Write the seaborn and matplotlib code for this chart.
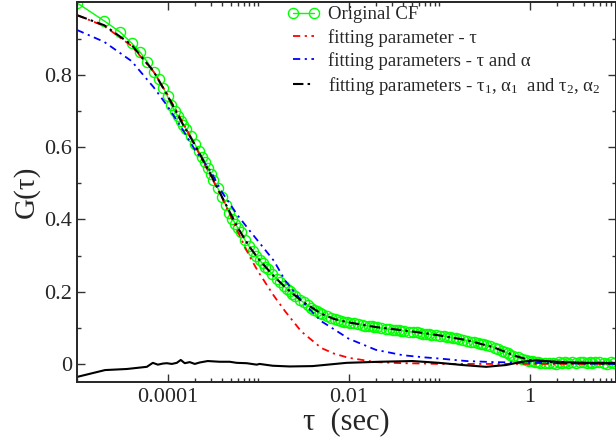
import numpy as np
import pandas as pd
import matplotlib
matplotlib.use("Agg")
import matplotlib.pyplot as plt
import seaborn as sns
from matplotlib.ticker import FixedLocator, NullFormatter

sns.set_style("ticks")
plt.rcParams['font.family'] = ['Liberation Serif', 'DejaVu Serif']
plt.rcParams['mathtext.fontset'] = 'custom'
plt.rcParams['mathtext.rm'] = 'Liberation Serif'
plt.rcParams['mathtext.it'] = 'Liberation Serif:italic'

# ------------------------------------------
# data (lag time in units of 10 us for the measured CF)
# ------------------------------------------
lag_units = [
    1, 2, 3, 4, 5, 6, 7, 8, 9, 10, 11, 12, 13, 14, 15, 16,
    18, 20, 22, 24, 26, 28, 30, 32,
    36, 40, 44, 48, 52, 56, 60, 64,
    72, 80, 88, 96, 104, 112, 120, 128,
    144, 160, 176, 192, 208, 224, 240, 256,
    288, 320, 352, 384, 416, 448, 480, 512,
    576, 640, 704, 768, 832, 896, 960, 1024,
    1152, 1280, 1408, 1536, 1664, 1792, 1920, 2048,
    2304, 2560, 2816, 3072, 3328, 3584, 3840, 4096,
    4608, 5120, 5632, 6144, 6656, 7168, 7680, 8192,
    9216, 10240, 11264, 12288, 13312, 14336, 15360, 16384,
    18432, 20480, 22528, 24576, 26624, 28672, 30720, 32768,
    36864, 40960, 45056, 49152, 53248, 57344, 61440, 65536,
    73728, 81920, 90112, 98304, 106496, 114688, 122880, 131072,
    147456, 163840, 180224, 196608, 212992, 229376, 245760, 262144,
    294912, 327680, 360448, 393216, 425984, 458752, 491520, 524288,
    589824, 655360, 720896, 786432, 851968,
]
cf_values = [
    0.999, 0.949, 0.918, 0.888, 0.862, 0.835, 0.808, 0.787,
    0.764, 0.740, 0.716, 0.700, 0.686, 0.673, 0.660, 0.651,
    0.631, 0.609, 0.589, 0.573, 0.560, 0.542, 0.525, 0.510,
    0.486, 0.462, 0.440, 0.418, 0.402, 0.388, 0.376, 0.365,
    0.342, 0.325, 0.312, 0.298, 0.287, 0.278, 0.269, 0.262,
    0.248, 0.236, 0.226, 0.216, 0.208, 0.201, 0.194, 0.189,
    0.178, 0.170, 0.162, 0.156, 0.150, 0.146, 0.141, 0.137,
    0.132, 0.128, 0.124, 0.121, 0.119, 0.117, 0.116, 0.114,
    0.112, 0.110, 0.108, 0.106, 0.105, 0.104, 0.102, 0.101,
    0.099, 0.097, 0.096, 0.095, 0.094, 0.093, 0.092, 0.091,
    0.089, 0.088, 0.087, 0.085, 0.084, 0.083, 0.082, 0.081,
    0.080, 0.078, 0.077, 0.075, 0.074, 0.072, 0.071, 0.069,
    0.067, 0.064, 0.062, 0.060, 0.058, 0.056, 0.054, 0.052,
    0.049, 0.045, 0.041, 0.037, 0.033, 0.030, 0.026, 0.023,
    0.018, 0.014, 0.011, 0.008, 0.007, 0.005, 0.004, 0.003,
    0.002, 0.002, 0.003, 0.001, 0.004, 0.002, 0.004, 0.003,
    0.005, 0.002, 0.004, 0.006, 0.003, 0.005, 0.002, 0.004,
    0.006, 0.003, 0.001, 0.004, 0.003,
]

# fitted curves (tau in seconds)
fit_tau = [1e-5, 2e-5, 4e-5, 7e-5, 1e-4, 1.5e-4, 2e-4, 3e-4, 4e-4, 6e-4,
           8e-4, 1e-3, 1.5e-3, 2e-3, 3e-3, 5e-3, 7e-3, 1e-2, 2e-2, 4e-2,
           7e-2, 0.1, 0.2, 0.4, 0.7, 1.0, 2.0, 4.0, 9.0]
fit_one = [0.965, 0.935, 0.880, 0.809, 0.745, 0.665, 0.605, 0.520, 0.460, 0.365,
           0.299, 0.256, 0.188, 0.145, 0.090, 0.044, 0.028, 0.017, 0.005, 0.002,
           0.001, 0.0, 0.0, 0.0, 0.0, 0.0, 0.0, 0.0, 0.0]
fit_alpha = [0.924, 0.891, 0.838, 0.766, 0.713, 0.645, 0.593, 0.533, 0.475, 0.410,
             0.370, 0.340, 0.285, 0.230, 0.175, 0.118, 0.095, 0.070, 0.039, 0.024,
             0.018, 0.015, 0.008, 0.005, 0.004, 0.003, 0.002, 0.001, 0.0]
fit_two = [0.965, 0.937, 0.883, 0.810, 0.742, 0.660, 0.607, 0.524, 0.462, 0.376,
           0.325, 0.292, 0.242, 0.212, 0.175, 0.139, 0.124, 0.115, 0.102, 0.093,
           0.085, 0.079, 0.066, 0.046, 0.022, 0.011, 0.004, 0.002, 0.001]

# residual of the two-component fit
res_tau = [1e-5, 2.04e-5, 3.56e-5, 5.91e-5, 6.88e-5, 7.82e-5, 8.88e-5, 9.82e-5,
           1.115e-4, 1.266e-4, 1.40e-4, 1.55e-4, 1.76e-4, 2.0e-4, 2.27e-4,
           2.78e-4, 3.77e-4, 4.86e-4, 5.81e-4, 7.49e-4, 9.65e-4, 1.04e-3,
           1.45e-3, 2.23e-3, 4.0e-3, 9.5e-3, 2.19e-2, 5.07e-2, 0.1, 0.18,
           0.331, 0.551, 0.826, 1.18, 2.28, 4.53, 9.0]
res_values = [-0.036, -0.017, -0.014, -0.008, 0.003, -0.002, 0.001, 0.002,
              0.000, 0.003, 0.011, 0.002, 0.005, 0.000, 0.004,
              0.008, 0.006, 0.006, 0.003, 0.002, -0.002, 0.000,
              -0.005, -0.007, -0.006, 0.003, 0.006, 0.008, 0.003, -0.003,
              -0.008, -0.003, 0.006, 0.010, 0.005, 0.003, 0.003]

cf = pd.DataFrame({"tau": np.array(lag_units) * 1e-5, "G": cf_values})
fits = pd.DataFrame({"tau": fit_tau, "one": fit_one,
                     "alpha": fit_alpha, "two": fit_two})
res = pd.DataFrame({"tau": res_tau, "G": res_values})

# ------------------------------------------
# plot
# ------------------------------------------
fig = plt.figure(figsize=(6.16, 4.4), dpi=100)
ax = fig.add_axes([77 / 616, 58 / 440, 539 / 616, 379.5 / 440])

sns.lineplot(data=cf, x="tau", y="G", ax=ax, sort=False, estimator=None,
             color="#00ff00", linewidth=1.0, marker="o", markersize=7.3,
             markerfacecolor="none", markeredgecolor="#00ff00",
             markeredgewidth=1.0, label="Original CF")
sns.lineplot(data=fits, x="tau", y="one", ax=ax, sort=False, estimator=None,
             color="#ff0000", linewidth=1.3,
             label="fitting parameter - τ")
sns.lineplot(data=fits, x="tau", y="alpha", ax=ax, sort=False, estimator=None,
             color="#0000ff", linewidth=1.3,
             label="fitting parameters - τ and α")
sns.lineplot(data=fits, x="tau", y="two", ax=ax, sort=False, estimator=None,
             color="black", linewidth=1.5,
             label="fitting parameters - τ$_1$, α$_1$  and τ$_2$, α$_2$")
sns.lineplot(data=res, x="tau", y="G", ax=ax, sort=False, estimator=None,
             color="black", linewidth=1.5)

ax.lines[1].set_dashes([4, 2.5, 1.2, 2.5])
ax.lines[2].set_dashes([4, 2.5, 1.2, 2.5])
ax.lines[3].set_dashes([5, 2, 1.2, 2])

ax.set_xscale("log")
ax.set_xlim(1e-5, 9)
ax.set_ylim(-0.05, 1.0)

ax.xaxis.set_major_locator(FixedLocator([1e-4, 1e-2, 1]))
ax.set_xticklabels(["0.0001", "0.01", "1"])
minor_x = [k * m for m in [1e-6, 1e-4, 1e-2, 1] for k in range(2, 11)]
ax.xaxis.set_minor_locator(FixedLocator(minor_x))
ax.xaxis.set_minor_formatter(NullFormatter())

ax.set_yticks([0, 0.2, 0.4, 0.6, 0.8])
ax.set_yticklabels(["0", "0.2", "0.4", "0.6", "0.8"])
ax.yaxis.set_minor_locator(FixedLocator([-0.1, 0.1, 0.3, 0.5, 0.7, 0.9]))

ax.tick_params(which="both", direction="in", top=True, right=True,
               width=1.0, labelsize=16, color="#333333")
ax.tick_params(which="major", length=6)
ax.tick_params(which="minor", length=3)
ax.tick_params(axis="x", which="major", pad=4.5)
ax.tick_params(axis="y", which="major", pad=3.5)
for s in ax.spines.values():
    s.set_linewidth(1.4)

ax.set_xlabel("τ  (sec)", fontsize=22, labelpad=0)
ax.set_ylabel("G(τ)", fontsize=21, labelpad=3)

leg = ax.legend(loc="upper left", bbox_to_anchor=(0.391, 0.99),
                frameon=False, fontsize=13.5, numpoints=2,
                handlelength=1.7, handletextpad=0.45, borderaxespad=0,
                borderpad=0, labelspacing=0.28)

fig.savefig("out.png", dpi=100)
